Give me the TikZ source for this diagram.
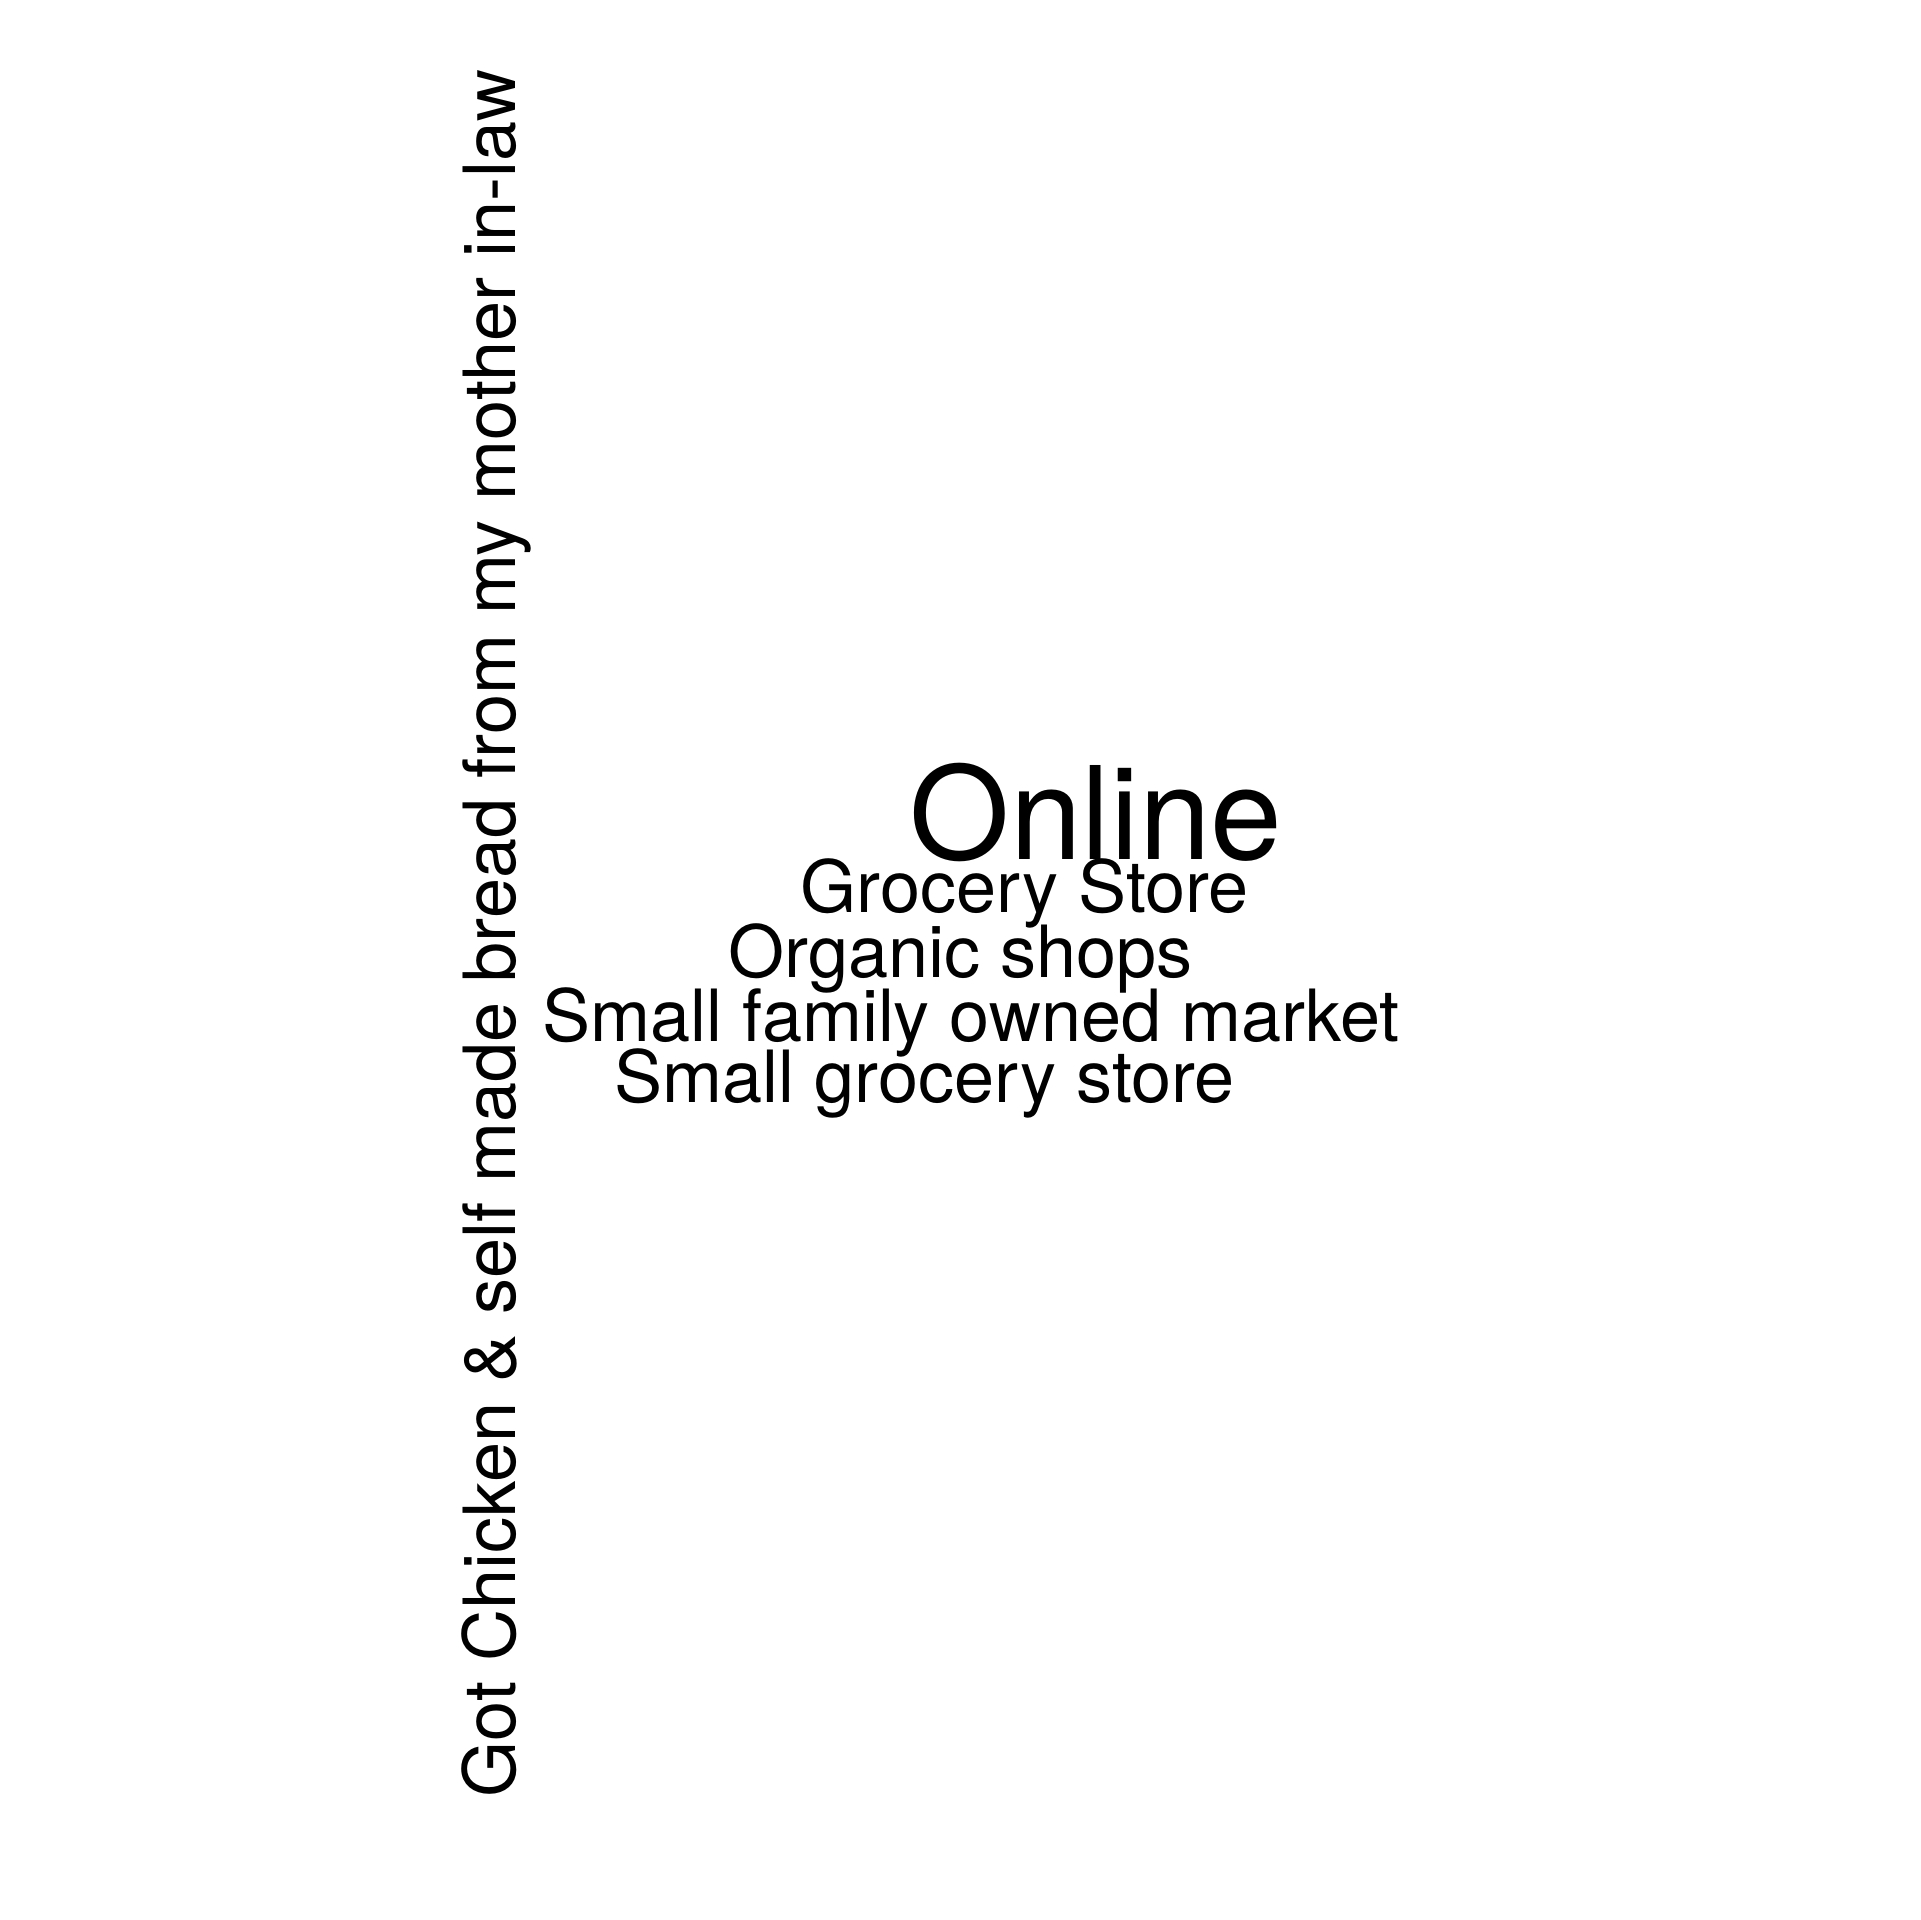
\documentclass[tikz,border=0pt]{standalone}
\usepackage{fontspec}
\setmainfont{TeX Gyre Heros}

\tikzset{word/.style={anchor=base west, inner sep=0pt,
                      font=\fontsize{20.5pt}{24pt}\selectfont}}

\begin{document}
\begin{tikzpicture}
\path[use as bounding box, fill=white] (0,0) rectangle (19.2,19.2);

\node[word, font=\fontsize{36.7pt}{44pt}\selectfont] (online) at (9.09,10.60) {Online};

\foreach \x/\y/\w [count=\i] in {8.00/10.07/Grocery Store,
                                 7.28/9.42/Organic shops,
                                 5.42/8.78/Small family owned market,
                                 6.14/8.17/Small grocery store}
  \node[word] (shop\i) at (\x,\y) {\w};

\node[word, rotate=90] (inlaw) at (5.15,1.22) {Got Chicken \& self made bread from my mother in-law};
\end{tikzpicture}
\end{document}
